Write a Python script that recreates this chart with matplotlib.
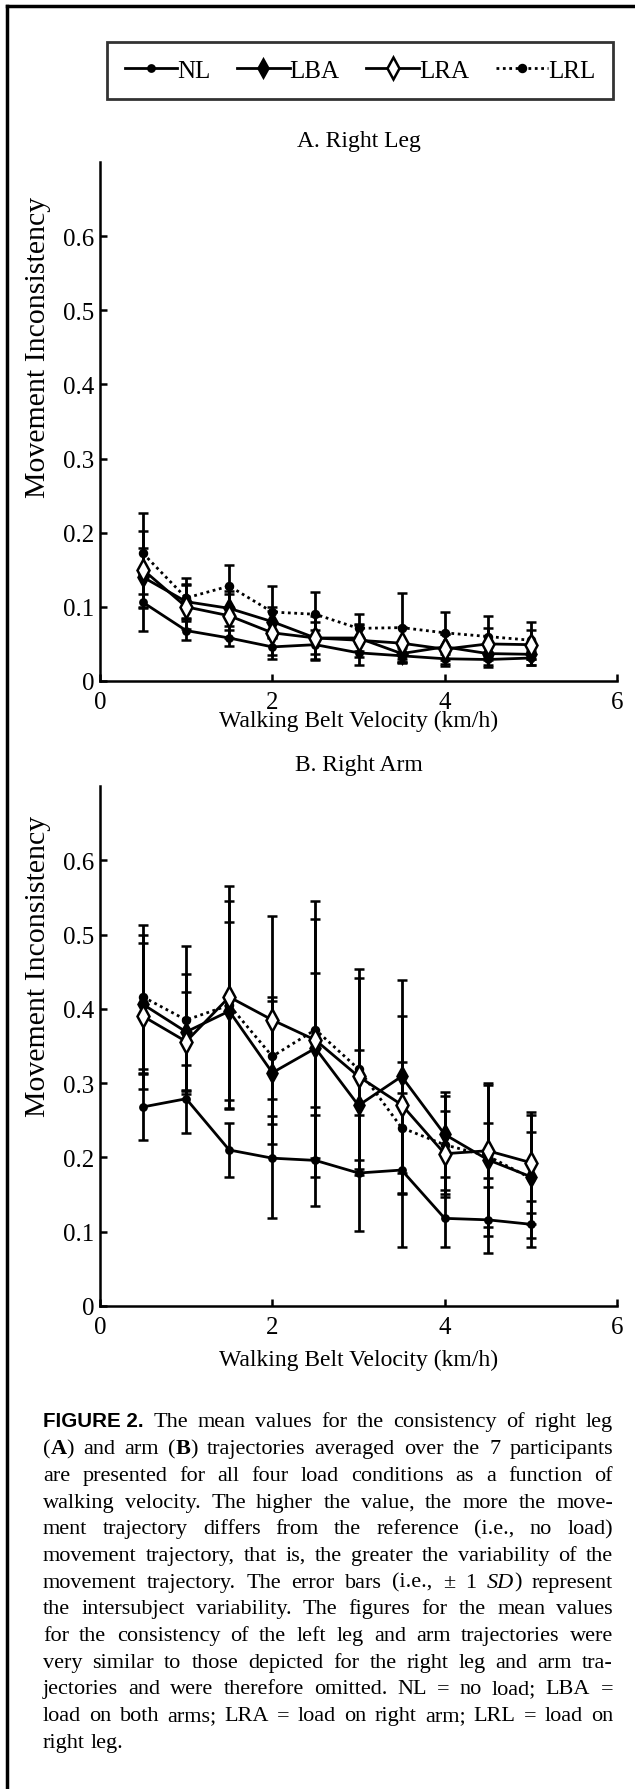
import matplotlib.pyplot as plt
from matplotlib.lines import Line2D

plt.rcParams['font.family'] = ['Liberation Serif', 'DejaVu Serif']

FW, FH = 635, 1790

speed = [0.5, 1.0, 1.5, 2.0, 2.5, 3.0, 3.5, 4.0, 4.5, 5.0]

# A. right leg
leg_nl = [0.106, 0.068, 0.058, 0.046, 0.049, 0.038, 0.034, 0.030, 0.029, 0.031]
leg_lba = [0.140, 0.107, 0.098, 0.080, 0.058, 0.058, 0.037, 0.046, 0.037, 0.036]
leg_lra = [0.150, 0.100, 0.088, 0.065, 0.058, 0.055, 0.051, 0.043, 0.050, 0.049]
leg_lrl = [0.172, 0.112, 0.128, 0.093, 0.090, 0.071, 0.072, 0.065, 0.060, 0.055]
leg_nl_sd = [0.038, 0.013, 0.011, 0.016, 0.020, 0.016, 0.010, 0.010, 0.010, 0.010]
leg_lba_sd = [0.040, 0.024, 0.024, 0.020, 0.022, 0.018, 0.012, 0.018, 0.016, 0.014]
leg_lra_sd = [0.052, 0.030, 0.030, 0.030, 0.030, 0.022, 0.022, 0.020, 0.022, 0.020]
leg_lrl_sd = [0.054, 0.027, 0.028, 0.035, 0.030, 0.020, 0.047, 0.028, 0.027, 0.025]

# B. right arm
arm_nl = [0.268, 0.279, 0.210, 0.199, 0.196, 0.179, 0.183, 0.118, 0.116, 0.110]
arm_lba = [0.406, 0.369, 0.397, 0.314, 0.347, 0.270, 0.309, 0.231, 0.197, 0.174]
arm_lra = [0.390, 0.356, 0.416, 0.385, 0.358, 0.309, 0.271, 0.205, 0.209, 0.193]
arm_lrl = [0.416, 0.385, 0.405, 0.336, 0.372, 0.319, 0.240, 0.217, 0.202, 0.172]
arm_nl_sd = [0.045, 0.046, 0.036, 0.080, 0.061, 0.078, 0.104, 0.038, 0.044, 0.031]
arm_lba_sd = [0.094, 0.078, 0.120, 0.096, 0.174, 0.074, 0.130, 0.057, 0.103, 0.083]
arm_lra_sd = [0.098, 0.067, 0.150, 0.140, 0.090, 0.133, 0.120, 0.058, 0.037, 0.068]
arm_lrl_sd = [0.097, 0.100, 0.140, 0.080, 0.173, 0.135, 0.088, 0.066, 0.096, 0.062]

conditions = ['NL', 'LBA', 'LRA', 'LRL']
styles = {
    'NL': dict(marker='o', ms=4.5, mfc='k', ls='-'),
    'LBA': dict(marker='d', ms=9, mfc='k', ls='-'),
    'LRA': dict(marker='d', ms=11, mfc='white', ls='-'),
    'LRL': dict(marker='o', ms=5, mfc='k', ls=(0, (1, 1.3))),
}

panels = [
    ('A. Right Leg', 163, 682, [leg_nl, leg_lba, leg_lra, leg_lrl],
     [leg_nl_sd, leg_lba_sd, leg_lra_sd, leg_lrl_sd], -0.075, 0.645),
    ('B. Right Arm', 787, 1307, [arm_nl, arm_lba, arm_lra, arm_lrl],
     [arm_nl_sd, arm_lba_sd, arm_lra_sd, arm_lrl_sd], -0.102, 0.655),
]

fig = plt.figure(figsize=(FW / 100, FH / 100), dpi=100)

for title, top, bottom, series, sds, xl_y, yl_y in panels:
    left, right = 100, 617
    ax = fig.add_axes([left / FW, 1 - bottom / FH, (right - left) / FW, (bottom - top) / FH])
    for name, vals, sd in zip(conditions, series, sds):
        st = styles[name]
        ax.errorbar(speed, vals, yerr=sd, color='k', lw=2, elinewidth=2,
                    capsize=3.5, capthick=2, marker=st['marker'], ms=st['ms'],
                    mfc=st['mfc'], mec='k', mew=1.8, ls=st['ls'],
                    zorder=4 if name == 'LRA' else 3)
    ax.set_xlim(0, 6)
    ax.set_ylim(0, 0.7)
    ax.set_xticks([0, 2, 4, 6])
    ax.set_yticks([0, 0.1, 0.2, 0.3, 0.4, 0.5, 0.6])
    ax.set_yticklabels(['0', '0.1', '0.2', '0.3', '0.4', '0.5', '0.6'])
    ax.spines[['top', 'right']].set_visible(False)
    for s in ['left', 'bottom']:
        ax.spines[s].set_linewidth(1.8)
    ax.tick_params(direction='in', length=5, width=1.8, labelsize=18)
    ax.tick_params(axis='x', pad=7)
    ax.tick_params(axis='y', pad=4)
    ax.set_xlabel('Walking Belt Velocity (km/h)', fontsize=17, va='center')
    ax.xaxis.set_label_coords(0.5, xl_y)
    ax.set_ylabel('Movement Inconsistency', fontsize=21.5, va='center')
    ax.yaxis.set_label_coords(-0.12, yl_y)
    ax.text(0.5, 1.042, title, transform=ax.transAxes, ha='center', va='center', fontsize=17)

# legend
handles = [Line2D([], [], color='k', lw=2, marker=styles[n]['marker'], ms=styles[n]['ms'],
                  mfc=styles[n]['mfc'], mec='k', mew=1.8, ls=styles[n]['ls'])
           for n in conditions]
leg = fig.legend(handles, conditions, loc='center',
                 bbox_to_anchor=(107 / FW, 1 - 102 / FH, 506 / FW, 61 / FH), mode='expand',
                 borderaxespad=0, ncol=4, fontsize=18, frameon=True, fancybox=False,
                 edgecolor='k', handlelength=2.1, handletextpad=0.0, columnspacing=1.0,
                 borderpad=0.7)
leg.get_frame().set_linewidth(2)

# outer frame
fig.add_artist(Line2D([7 / FW, 7 / FW], [0, 1 - 7 / FH], transform=fig.transFigure, color='k', lw=2.5))
fig.add_artist(Line2D([7 / FW, 1], [1 - 7 / FH, 1 - 7 / FH], transform=fig.transFigure, color='k', lw=2.5))

# caption, justified
caption = [
    '@FIGURE~2.@ The mean values for the consistency of right leg',
    '(#A#) and arm (#B#) trajectories averaged over the 7 participants',
    'are presented for all four load conditions as a function of',
    'walking velocity. The higher the value, the more the move-',
    'ment trajectory differs from the reference (i.e., no load)',
    'movement trajectory, that is, the greater the variability of the',
    'movement trajectory. The error bars (i.e., \u00b1 1 *SD*) represent',
    'the intersubject variability. The figures for the mean values',
    'for the consistency of the left leg and arm trajectories were',
    'very similar to those depicted for the right leg and arm tra-',
    'jectories and were therefore omitted. NL = no load; LBA =',
    'load on both arms; LRA = load on right arm; LRL = load on',
    'right leg.',
]


def parse(word):
    out, style, buf = [], 'n', ''
    for ch in word:
        if ch in '*#@':
            if buf:
                out.append((buf, style))
                buf = ''
            m = {'*': 'i', '#': 'b', '@': 's'}[ch]
            style = 'n' if style == m else m
        else:
            buf += ch
    if buf:
        out.append((buf, style))
    return [(t.replace('~', ' '), s) for t, s in out]


def props(style, size):
    if style == 's':
        return dict(family=['Liberation Sans', 'DejaVu Sans'], weight='bold', size=size * 0.92)
    p = dict(family=['Liberation Serif', 'DejaVu Serif'], size=size)
    if style == 'i':
        p['style'] = 'italic'
    if style == 'b':
        p['weight'] = 'bold'
    return p


renderer = fig.canvas.get_renderer()


def width(text, style, size):
    t = fig.text(0, 0, text, **props(style, size))
    w = t.get_window_extent(renderer).width
    t.remove()
    return w


cap_left, cap_right = 43, 613
cap_w = cap_right - cap_left
cap_size = 16
space = width('a a', 'n', cap_size) - width('aa', 'n', cap_size)
lines = [[parse(w) for w in line.split(' ')] for line in caption]
natural = []
for words in lines:
    ws = [sum(width(t, s, cap_size) for t, s in word) for word in words]
    natural.append(sum(ws) + space * (len(ws) - 1))
if max(natural) > cap_w:
    cap_size = cap_size * cap_w / max(natural)
    space = width('a a', 'n', cap_size) - width('aa', 'n', cap_size)

for i, words in enumerate(lines):
    base = 1427.5 + i * 26.7
    ws = [[width(t, s, cap_size) for t, s in word] for word in words]
    totals = [sum(w) for w in ws]
    if i < len(lines) - 1 and len(words) > 1:
        gap = (cap_w - sum(totals)) / (len(words) - 1)
    else:
        gap = space
    x = cap_left
    for word, wl in zip(words, ws):
        for (t, s), w in zip(word, wl):
            fig.text(x / FW, 1 - base / FH, t, ha='left', va='baseline', **props(s, cap_size))
            x += w
        x += gap

fig.savefig('out.png', dpi=100)
